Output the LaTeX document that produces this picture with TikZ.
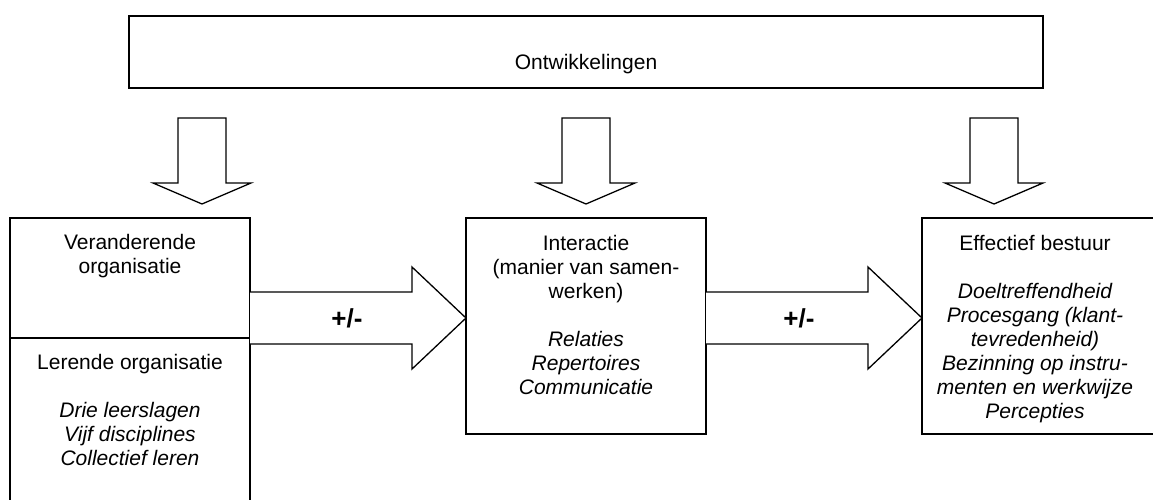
\documentclass[tikz,border=0pt]{standalone}
\usepackage{fontspec}
\setmainfont{Liberation Sans}
\usepackage{tikz}

\begin{document}
\begin{tikzpicture}[x=1pt,y=-1pt]
\tikzstyle{box edge} = [draw, color=black, line width=1.3pt, line join=miter]
\tikzstyle{block arrow} = [draw, color=black, fill=white, line width=1.3pt, line join=miter]
\tikzstyle{box label} = [align=center, anchor=base, inner sep=0pt, font=\fontsize{21}{24}\selectfont]
\tikzstyle{sign label} = [anchor=base, inner sep=0pt, font=\fontsize{26}{28}\selectfont\bfseries]
\useasboundingbox (0,0) rectangle (1153,500);
% corners of the boxes
\coordinate (c_1) at (129,16);
\coordinate (c_2) at (1043,88);
\coordinate (c_3) at (10,218);
\coordinate (c_4) at (250,218);
\coordinate (c_5) at (10,500);
\coordinate (c_6) at (250,500);
\coordinate (c_7) at (10,338);
\coordinate (c_8) at (250,338);
\coordinate (c_9) at (466,218);
\coordinate (c_10) at (706,434);
\coordinate (c_11) at (922,218);
\coordinate (c_12) at (1153,218);
\coordinate (c_13) at (922,434);
\coordinate (c_14) at (1153,434);
% boxes
\path[box edge] (c_1) rectangle (c_2);
\path[box edge] (c_5) -- (c_3) -- (c_4) -- (c_6);
\path[box edge] (c_7) -- (c_8);
\path[box edge] (c_9) rectangle (c_10);
\path[box edge] (c_12) -- (c_11) -- (c_13) -- (c_14);
% arrows from the top box
\path[block arrow] (178,118) -- (226,118) -- (226,183) -- (251,183) -- (202,204) -- (153,183) -- (178,183) -- cycle;
\path[block arrow] (562,118) -- (610,118) -- (610,183) -- (635,183) -- (586,204) -- (537,183) -- (562,183) -- cycle;
\path[block arrow] (970,118) -- (1018,118) -- (1018,183) -- (1043,183) -- (994,204) -- (945,183) -- (970,183) -- cycle;
% arrows between the boxes
\path[block arrow] (250,292) -- (412,292) -- (412,267) -- (466,318) -- (412,369) -- (412,344) -- (250,344);
\path[block arrow] (706,292) -- (868,292) -- (868,267) -- (922,318) -- (868,369) -- (868,344) -- (706,344);
% labels (base = baseline of the last line)
\node[box label] (n_1) at (586,70) {Ontwikkelingen};
\node[box label] (n_2) at (130,273) {Veranderende\\organisatie};
\node[box label] (n_3) at (130,465) {Lerende organisatie\\[24pt]\itshape Drie leerslagen\\\itshape Vijf disciplines\\\itshape Collectief leren};
\node[box label] (n_4) at (586,394) {Interactie\\(manier van samen-\\werken)\\[24pt]\itshape Relaties\\\itshape Repertoires\\\itshape Communicatie};
\node[box label] (n_5) at (1035,418) {Effectief bestuur\\[24pt]\itshape Doeltreffendheid\\\itshape Procesgang (klant-\\\itshape tevredenheid)\\\itshape Bezinning op instru-\\\itshape menten en werkwijze\\\itshape Percepties};
\node[sign label] (n_6) at (347,327) {+/-};
\node[sign label] (n_7) at (799,327) {+/-};
\end{tikzpicture}
\end{document}
